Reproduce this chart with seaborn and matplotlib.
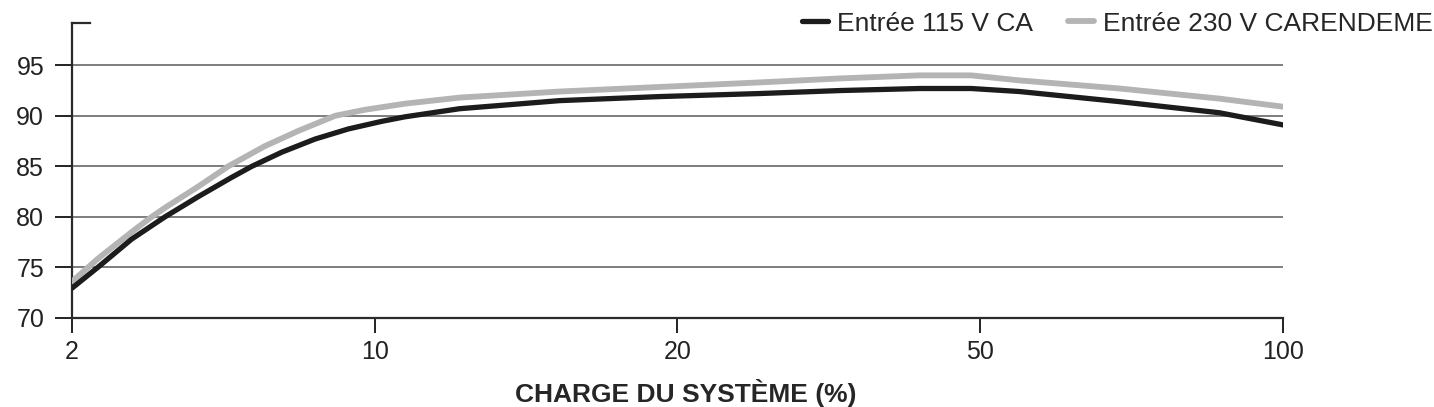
"""Efficiency vs system load, two input voltages."""
import numpy as np
import pandas as pd
import matplotlib
matplotlib.use("Agg")
import matplotlib.pyplot as plt
import seaborn as sns

# tick categories on the x axis (equally spaced)
LOAD_LABELS = ["2", "10", "20", "50", "100"]

# curve points, x in tick-position units (0 = "2", 4 = "100")
POS_115 = [0.0, 0.087, 0.197, 0.307, 0.417, 0.527, 0.594, 0.693, 0.803, 0.913,
           1.023, 1.10, 1.28, 1.61, 1.94, 2.27, 2.54, 2.80, 2.97, 3.13, 3.46,
           3.79, 4.0]
EFF_115 = [72.95, 75.05, 77.8, 80.0, 82.0, 83.9, 85.0, 86.4, 87.7, 88.7,
           89.45, 89.9, 90.7, 91.5, 91.9, 92.2, 92.5, 92.7, 92.7, 92.4, 91.4,
           90.3, 89.1]

POS_230 = [0.0, 0.087, 0.197, 0.263, 0.307, 0.417, 0.516, 0.637, 0.747, 0.869,
           0.968, 1.10, 1.28, 1.61, 1.94, 2.27, 2.54, 2.80, 2.97, 3.13, 3.46,
           3.79, 4.0]
EFF_230 = [73.6, 75.9, 78.5, 80.0, 80.9, 83.0, 85.0, 87.0, 88.5, 90.0,
           90.6, 91.2, 91.8, 92.4, 92.85, 93.3, 93.7, 94.0, 94.0, 93.5, 92.7,
           91.7, 90.9]

SERIES = ["Entrée 115 V CA", "Entrée 230 V CARENDEME"]
COLORS = {SERIES[0]: "#1c1c1c", SERIES[1]: "#b4b4b4"}
Y_TICKS = [70, 75, 80, 85, 90, 95]

df = pd.concat([
    pd.DataFrame({"pos": POS_115, "eff": EFF_115, "serie": SERIES[0]}),
    pd.DataFrame({"pos": POS_230, "eff": EFF_230, "serie": SERIES[1]}),
])

sns.set_style("white")
plt.rcParams["font.family"] = ["Liberation Sans", "DejaVu Sans"]

fig = plt.figure(figsize=(14.34, 4.07), dpi=100)
ax = fig.add_axes([0.0502, 0.2187, 0.8445, 0.7253])

for y in Y_TICKS[1:]:
    ax.axhline(y, color="#5a5a5a", lw=1.1, zorder=1)

sns.lineplot(data=df, x="pos", y="eff", hue="serie", palette=COLORS,
             hue_order=SERIES[::-1], estimator=None, sort=True, ax=ax,
             linewidth=4.2, legend=False, zorder=3)
for line in ax.lines[-2:]:
    line.set_solid_capstyle("round")
    line.set_solid_joinstyle("round")
ax.lines[-1].set_linewidth(3.8)

ax.set_xlim(0, 4)
ax.set_ylim(70, 99.2)
ax.set_xticks(range(len(LOAD_LABELS)))
ax.set_xticklabels(LOAD_LABELS)
ax.set_yticks(Y_TICKS)
ax.tick_params(axis="both", labelsize=18, colors="#222222", width=1.4)
ax.tick_params(axis="y", length=12, pad=8, left=True, direction="out")
ax.tick_params(axis="x", length=11, pad=5, bottom=True, direction="out")

for side in ["left", "bottom"]:
    ax.spines[side].set_color("#2a2a2a")
    ax.spines[side].set_linewidth(1.6)
ax.spines["right"].set_visible(False)
ax.spines["top"].set_color("#2a2a2a")
ax.spines["top"].set_linewidth(1.6)
ax.spines["top"].set_bounds(0, 0.06)

ax.set_xlabel("CHARGE DU SYSTÈME (%)", fontsize=19, fontweight="bold")
ax.xaxis.set_label_coords(0.507, -0.205)
ax.set_ylabel("")

handles = [plt.Line2D([], [], color=COLORS[SERIES[0]], lw=3.8),
           plt.Line2D([], [], color=COLORS[SERIES[1]], lw=4.2)]
fig.legend(handles, SERIES, loc="upper right", bbox_to_anchor=(1.016, 1.03),
           ncol=2, frameon=False, fontsize=19, handlelength=1.0,
           handletextpad=0.35, columnspacing=1.3)

fig.savefig("out.png", dpi=100)
